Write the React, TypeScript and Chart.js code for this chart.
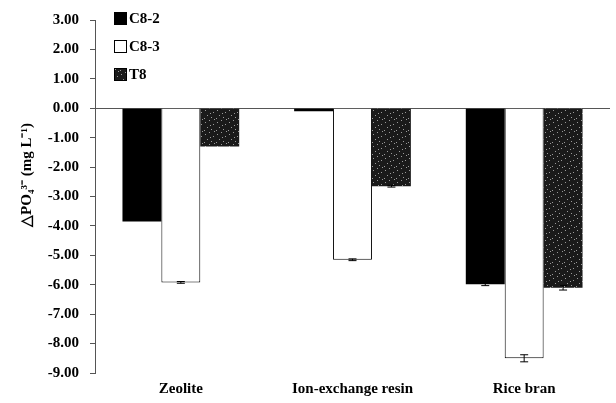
import React, { useEffect, useRef } from "react";
import { Chart, registerables } from "chart.js";
Chart.register(...registerables);

const categories = ["Zeolite", "Ion-exchange resin", "Rice bran"];
const seriesNames = ["C8-2", "C8-3", "T8"];
const c82 = [-3.85, -0.1, -5.98];
const c83 = [-5.92, -5.15, -8.5];
const t8 = [-1.3, -2.65, -6.1];
const c82Err = [0, 0, 0.05];
const c83Err = [0.03, 0.03, 0.12];
const t8Err = [0, 0.03, 0.08];
const yTicks = [3, 2, 1, 0, -1, -2, -3, -4, -5, -6, -7, -8, -9];
const yTitle = "△PO₄³⁻ (mg L⁻¹)";

const FONT = "'Liberation Serif', 'Times New Roman', serif";

function makePattern(): CanvasPattern | string {
  const c = document.createElement("canvas");
  c.width = 12;
  c.height = 12;
  const ctx = c.getContext("2d");
  if (!ctx) return "#222";
  ctx.fillStyle = "#1a1a1a";
  ctx.fillRect(0, 0, 12, 12);
  ctx.fillStyle = "#9a9a9a";
  const dots = [[1, 2], [5, 0], [9, 4], [3, 7], [7, 9], [10, 11], [0, 10], [6, 5]];
  dots.forEach(([x, y]) => ctx.fillRect(x, y, 1, 1));
  const p = ctx.createPattern(c, "repeat");
  return p || "#222";
}

export default function App() {
  const ref = useRef<HTMLCanvasElement>(null);
  useEffect(() => {
    if (!ref.current) return;
    const pattern = makePattern();
    const errs = [c82Err, c83Err, t8Err];

    const errorBars = {
      id: "errorBars",
      afterDatasetsDraw(chart: any) {
        const ctx = chart.ctx;
        const yScale = chart.scales.y;
        ctx.save();
        ctx.strokeStyle = "#000";
        ctx.lineWidth = 1;
        chart.data.datasets.forEach((ds: any, di: number) => {
          const meta = chart.getDatasetMeta(di);
          meta.data.forEach((bar: any, i: number) => {
            const e = errs[di][i];
            if (!e) return;
            const v = ds.data[i];
            const y1 = yScale.getPixelForValue(v - e);
            const y2 = yScale.getPixelForValue(v + e);
            const x = bar.x;
            ctx.beginPath();
            ctx.moveTo(x, y1);
            ctx.lineTo(x, y2);
            ctx.moveTo(x - 4, y1);
            ctx.lineTo(x + 4, y1);
            ctx.moveTo(x - 4, y2);
            ctx.lineTo(x + 4, y2);
            ctx.stroke();
          });
        });
        ctx.restore();
      },
    };

    const legendPlugin = {
      id: "customLegend",
      afterDraw(chart: any) {
        const ctx = chart.ctx;
        const x0 = chart.chartArea.left + 19;
        const y0 = chart.chartArea.top - 2;
        ctx.save();
        chart.data.datasets.forEach((ds: any, i: number) => {
          const y = y0 + i * 28;
          ctx.fillStyle = ds.backgroundColor;
          ctx.fillRect(x0, y - 6, 13, 13);
          ctx.strokeStyle = "#000";
          ctx.lineWidth = 1;
          ctx.strokeRect(x0 + 0.5, y - 5.5, 12, 12);
          ctx.fillStyle = "#000";
          ctx.font = "bold 15px " + FONT;
          ctx.textBaseline = "middle";
          ctx.fillText(ds.label, x0 + 15, y + 1);
        });
        // y-axis title
        ctx.translate(27, 175);
        ctx.rotate(-Math.PI / 2);
        ctx.font = "bold 15px " + FONT;
        ctx.textAlign = "center";
        ctx.textBaseline = "middle";
        ctx.fillText(yTitle, 0, 0);
        ctx.restore();
      },
    };

    const chart = new Chart(ref.current, {
      type: "bar",
      data: {
        labels: categories,
        datasets: [
          { label: seriesNames[0], data: c82, backgroundColor: "#000", borderColor: "#000", borderWidth: 0 },
          { label: seriesNames[1], data: c83, backgroundColor: "#fff", borderColor: "#000", borderWidth: 1 },
          { label: seriesNames[2], data: t8, backgroundColor: pattern as any, borderColor: "#222", borderWidth: 0 },
        ],
      },
      options: {
        animation: false,
        responsive: true,
        maintainAspectRatio: false,
        layout: { padding: { left: 0, right: 6, top: 20, bottom: 0 } },
        datasets: { bar: { categoryPercentage: 0.68, barPercentage: 1 } },
        plugins: { legend: { display: false }, tooltip: { enabled: false } },
        scales: {
          x: {
            grid: { display: false, drawTicks: false },
            border: { display: false },
            ticks: { color: "#000", font: { family: FONT, size: 15, weight: "bold" }, padding: 7 },
            afterFit: (s: any) => { s.height = 30; },
          },
          y: {
            min: -9,
            max: 3,
            afterBuildTicks: (s: any) => { s.ticks = yTicks.map((v) => ({ value: v })); },
            border: { display: true, color: "#555" },
            grid: {
              drawTicks: true,
              tickLength: 5,
              tickColor: "#555",
              color: (c: any) => (c.tick && c.tick.value === 0 ? "#555" : "transparent"),
            },
            ticks: {
              color: "#000",
              font: { family: FONT, size: 15, weight: "bold" },
              padding: 11,
              callback: (v: any) => Number(v).toFixed(2),
            },
            afterFit: (s: any) => { s.width = 95; },
          },
        },
      },
      plugins: [errorBars, legendPlugin],
    });
    return () => chart.destroy();
  }, []);
  return (
    <div style={{ position: "absolute", left: 0, top: 0, width: 616, height: 403, background: "#fff" }}>
      <canvas ref={ref} />
    </div>
  );
}
